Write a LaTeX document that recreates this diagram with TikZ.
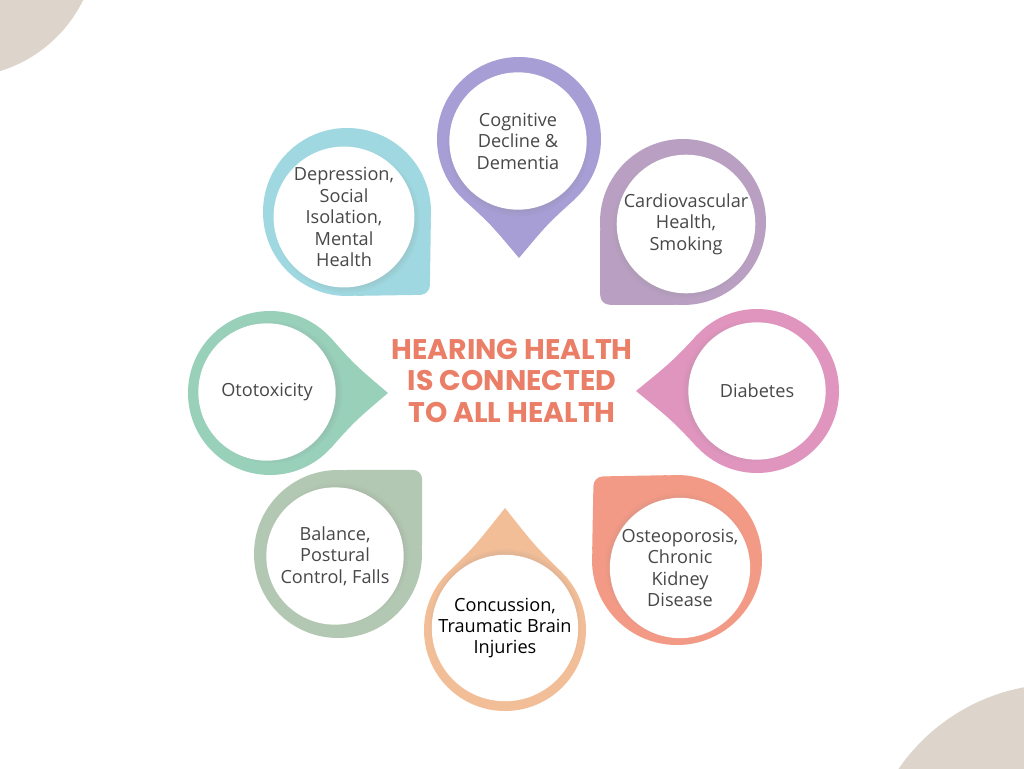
\documentclass[tikz,border=0pt]{standalone}
\usepackage{fontspec}
\setmainfont{Open Sans}
\newfontfamily\titlefont{Poppins}
\usetikzlibrary{shadows,calc}
\definecolor{ccog}{HTML}{A69ED4}
\definecolor{ccard}{HTML}{B9A0C2}
\definecolor{cdia}{HTML}{E095BE}
\definecolor{cost}{HTML}{F39A86}
\definecolor{cconc}{HTML}{F2BE98}
\definecolor{cbal}{HTML}{B3C8B2}
\definecolor{coto}{HTML}{98D0BA}
\definecolor{cdep}{HTML}{9FD8E0}
\definecolor{ctitle}{HTML}{EA7E67}
\definecolor{ccorner}{HTML}{DDD4CC}
\definecolor{ctxt}{HTML}{484848}
% flat-sided petal with a rounded tip
\newcommand{\petal}[7]{% cx cy R theta d color rounding
  \pgfmathsetmacro{\al}{acos(#3/#5)}
  \fill[#6] (#1,#2) circle[radius=#3];
  \fill[#6, rounded corners=#7] ($(#1,#2)+(#4-\al:#3)$) -- ($(#1,#2)+(#4:#5)$) -- ($(#1,#2)+(#4+\al:#3)$) -- (#1,#2) -- cycle;
}
% drop-shaped petal with slightly concave sides and a sharp tip
\newcommand{\droppetal}[6]{% cx cy R theta d color
  \pgfmathsetmacro{\be}{acos(#3/#5)-4}
  \pgfmathsetmacro{\ll}{0.45*#3}
  \fill[#6] (#1,#2) circle[radius=#3];
  \fill[#6] ($(#1,#2)+(#4-\be:#3)$)
     .. controls ($(#1,#2)+(#4-\be:#3)+(#4-\be+90:\ll)$) .. ($(#1,#2)+(#4:#5)$)
     .. controls ($(#1,#2)+(#4+\be:#3)+(#4+\be-90:\ll)$) .. ($(#1,#2)+(#4+\be:#3)$)
     -- (#1,#2) -- cycle;
}
\tikzset{
  innerc/.style={circle, fill=white, inner sep=0pt, minimum size=103pt, align=center,
    font=\fontsize{13.6}{16.1}\selectfont, text=ctxt},
  sh/.style 2 args={circular drop shadow={shadow xshift=#1, shadow yshift=#2, opacity=0.28, shadow scale=1.04}},
  titlestyle/.style={align=center, text=ctitle, font=\titlefont\bfseries\fontsize{21.3}{23.6}\selectfont},
}
\begin{document}
\begin{tikzpicture}[x=0.75pt,y=-0.75pt]
\clip (0,0) rectangle (1024,768);
\fill[white] (0,0) rectangle (1024,768);
\fill[ccorner] (-40,-60) circle[radius=137];
\fill[ccorner] (1060,880) circle[radius=196];

\droppetal{519}{139}{82}{90}{119}{ccog}
\petal{683}{222}{83}{135}{117}{ccard}{7pt}
\droppetal{757}{391}{82}{180}{121}{cdia}
\petal{677}{560}{85}{225}{118}{cost}{7pt}
\droppetal{505}{630}{81}{270}{122}{cconc}
\petal{338}{554}{84}{315}{119}{cbal}{7pt}
\droppetal{270}{393}{82}{0}{118}{coto}
\petal{347}{212}{84}{45}{117}{cdep}{7pt}

\node[innerc, sh={0pt}{-3pt}] (cog) at (518,141) {Cognitive\\Decline \&\\Dementia};
\node[innerc, sh={-2pt}{-2pt}] (card) at (686,224) {Cardiovascular\\Health,\\Smoking};
\node[innerc, sh={-3pt}{0pt}] (dia) at (757,391) {Diabetes};
\node[innerc, sh={-2pt}{2pt}] (ost) at (680,568) {Osteoporosis,\\Chronic\\Kidney\\Disease};
\node[innerc, sh={0pt}{3pt}, text=black] (conc) at (505,628) {Concussion,\\Traumatic Brain\\Injuries};
\node[innerc, sh={2pt}{2pt}] (bal) at (335,556) {Balance,\\Postural\\Control, Falls};
\node[innerc, sh={3pt}{0pt}] (oto) at (267,392) {Ototoxicity};
\node[innerc, sh={2pt}{-2pt}] (dep) at (344,217) {Depression,\\Social\\Isolation,\\Mental\\Health};

\node[titlestyle] (ttl) at (512,381) {HEARING HEALTH\\IS CONNECTED\\TO ALL HEALTH};
\end{tikzpicture}
\end{document}
